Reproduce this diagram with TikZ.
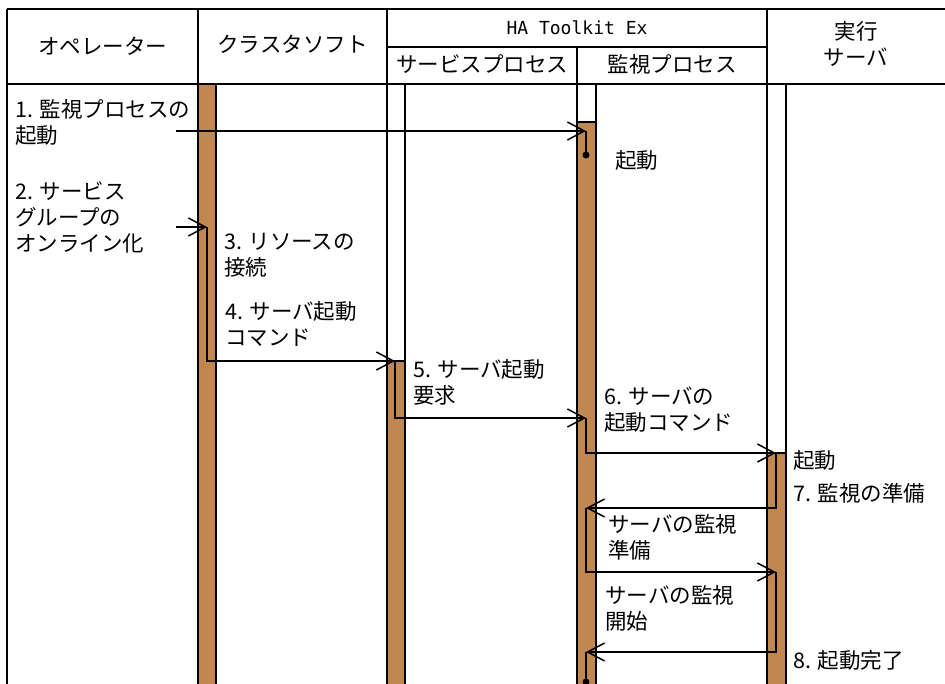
\documentclass[tikz,border=0pt]{standalone}
\usepackage{fontspec}
\setmainfont{Noto Sans CJK JP}
\newfontfamily\monofnt{DejaVu Sans Mono}
\usetikzlibrary{arrows.meta}
\definecolor{barbrown}{RGB}{193,135,80}
\begin{document}
\begin{tikzpicture}[x=1pt,y=-1pt,
  frameline/.style={line width=1.8pt},
  lifeline/.style={line width=1.4pt},
  barbox/.style={fill=barbrown, draw=black, line width=1.4pt},
  arr/.style={line width=1.5pt, -{Straight Barb[length=17pt,width=18pt]}},
  plainline/.style={line width=1.5pt},
  hd/.style={anchor=base, inner sep=0pt, font=\fontsize{21.5}{26}\selectfont},
  lbl/.style={anchor=north west, inner sep=0pt, align=left,
    font=\fontsize{21.5}{26}\selectfont, execute at begin node={\rule{0pt}{21pt}}},
]
\useasboundingbox (0,0) rectangle (945,684);
\fill[white] (0,0) rectangle (945,684);

% activation bars
\filldraw[barbox] (198,84) rectangle (216,692);
\filldraw[barbox] (387,361) rectangle (405,692);
\filldraw[barbox] (577,122) rectangle (596,692);
\filldraw[barbox] (767,453) rectangle (786,692);

% lifeline right edges
\draw[lifeline] (216,84) -- (216,690);
\draw[lifeline] (405,84) -- (405,690);
\draw[lifeline] (596,84) -- (596,690);
\draw[lifeline] (786,84) -- (786,690);

% table frame
\draw[frameline] (7,9) -- (945,9);
\draw[frameline] (7,84) -- (945,84);
\draw[frameline] (387,47) -- (767,47);
\draw[frameline] (7,9) -- (7,690);
\draw[frameline] (198,9) -- (198,690);
\draw[frameline] (387,9) -- (387,690);
\draw[frameline] (577,47) -- (577,690);
\draw[frameline] (767,9) -- (767,690);

% headers
\node[hd] (hop) at (102.5,55) {オペレーター};
\node[hd] (hcl) at (292.5,53) {クラスタソフト};
\node[hd, font=\monofnt\fontsize{18}{20}\selectfont] (hha) at (577,34.5) {HA Toolkit Ex};
\node[hd] (hsv) at (482,73) {サービスプロセス};
\node[hd] (hmn) at (672,73) {監視プロセス};
\node[hd] (hex1) at (856,40) {実行};
\node[hd] (hex2) at (856,66) {サーバ};

% labels
\node[lbl] (l1) at (15,99) {1. 監視プロセスの\\起動};
\node[lbl] (lk1) at (615,147) {起動};
\node[lbl] (l2) at (15,182) {2. サービス\\グループの\\オンライン化};
\node[lbl] (l3) at (224,233) {3. リソースの\\接続};
\node[lbl] (l4) at (225,301) {4. サーバ起動\\コマンド};
\node[lbl] (l5) at (413,359) {5. サーバ起動\\要求};
\node[lbl] (l6) at (604,387) {6. サーバの\\起動コマンド};
\node[lbl] (lk2) at (793,447) {起動};
\node[lbl] (l7) at (793,480) {7. 監視の準備};
\node[lbl] (lp) at (608,514) {サーバの監視\\準備};
\node[lbl] (ls) at (605,585) {サーバの監視\\開始};
\node[lbl] (l8) at (793,647) {8. 起動完了};

% message coordinates
\coordinate (p1s) at (176,131);
\coordinate (p1e) at (586,131);
\coordinate (p1d) at (586,155);
\coordinate (p2s) at (176,227);
\coordinate (p2e) at (207,227);
\coordinate (p4e) at (395,361);
\coordinate (p5e) at (586,418);
\coordinate (p6e) at (776,453);
\coordinate (p7e) at (586,508);
\coordinate (p7f) at (776,572);
\coordinate (p8e) at (586,652);
\coordinate (p8d) at (586,682);

% messages
\draw[arr] (p1s) -- (p1e);
\draw[plainline] (p1e) -- (p1d);
\fill (p1d) circle (3.5);
\draw[arr] (p2s) -- (p2e);
\draw[arr] (p2e) |- (p4e);
\draw[arr] (p4e) |- (p5e);
\draw[arr] (p5e) |- (p6e);
\draw[arr] (p6e) |- (p7e);
\draw[arr] (p7e) |- (p7f);
\draw[arr] (p7f) |- (p8e);
\draw[plainline] (p8e) -- (p8d);
\fill (p8d) circle (3.5);
\end{tikzpicture}
\end{document}
